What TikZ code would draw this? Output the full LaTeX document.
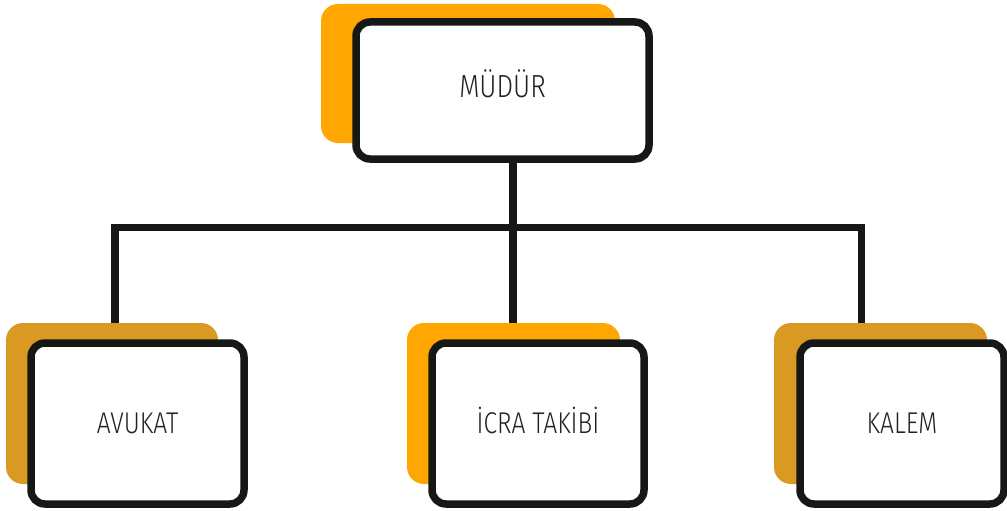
\documentclass[tikz,border=0pt]{standalone}
\usepackage{fontspec}
\setmainfont{Fira Sans Light}[FakeStretch=0.82]
\definecolor{orgA}{RGB}{255,166,0}
\definecolor{orgB}{RGB}{217,153,34}
\definecolor{lineC}{RGB}{22,24,22}
\definecolor{txtC}{RGB}{34,34,34}
\begin{document}
\begin{tikzpicture}[x=1pt,y=-1pt,
  shadowbox/.style={rectangle, rounded corners=17pt, draw=none, inner sep=0pt},
  mainbox/.style={rectangle, rounded corners=14pt, draw=lineC, line width=7.5pt, fill=white, inner sep=0pt, text=txtC},
  bottomtext/.style={font=\fontsize{30}{36}\selectfont, text height=20.5pt, text depth=0pt},
  conn/.style={draw=lineC, line width=7.5pt, line join=miter}]
\useasboundingbox (0,0) rectangle (1007,511);
% shadows
\node[shadowbox, fill=orgA, minimum width=294pt, minimum height=139pt] (s0) at (468,73.5) {};
\node[shadowbox, fill=orgB, minimum width=212pt, minimum height=161pt] (s1) at (112,403.5) {};
\node[shadowbox, fill=orgA, minimum width=213pt, minimum height=161pt] (s2) at (513.5,403.5) {};
\node[shadowbox, fill=orgB, minimum width=213pt, minimum height=161pt] (s3) at (880.5,403.5) {};
% connectors
\coordinate (j) at (513,227.5);
\coordinate (jl) at (115,227.5);
\coordinate (jr) at (861.5,227.5);
\node[mainbox, minimum width=293pt, minimum height=137pt, font=\fontsize{32}{38}\selectfont, text height=22pt, text depth=7pt] (top) at (502.5,90.5) {MÜDÜR};
\draw[conn] (top.south -| j) -- (j);
\draw[conn] (s1.north -| jl) -- (jl) -- (jr) -- (s3.north -| jr);
\draw[conn] (j) -- (s2.north -| j);
% boxes
\node[mainbox, bottomtext, minimum width=213pt, minimum height=161pt] (b1) at (137.5,423.5) {AVUKAT};
\node[mainbox, bottomtext, minimum width=212pt, minimum height=161pt] (b2) at (538,423.5) {İCRA TAKİBİ};
\node[mainbox, bottomtext, minimum width=204pt, minimum height=161pt] (b3) at (902,423.5) {KALEM};
\end{tikzpicture}
\end{document}
